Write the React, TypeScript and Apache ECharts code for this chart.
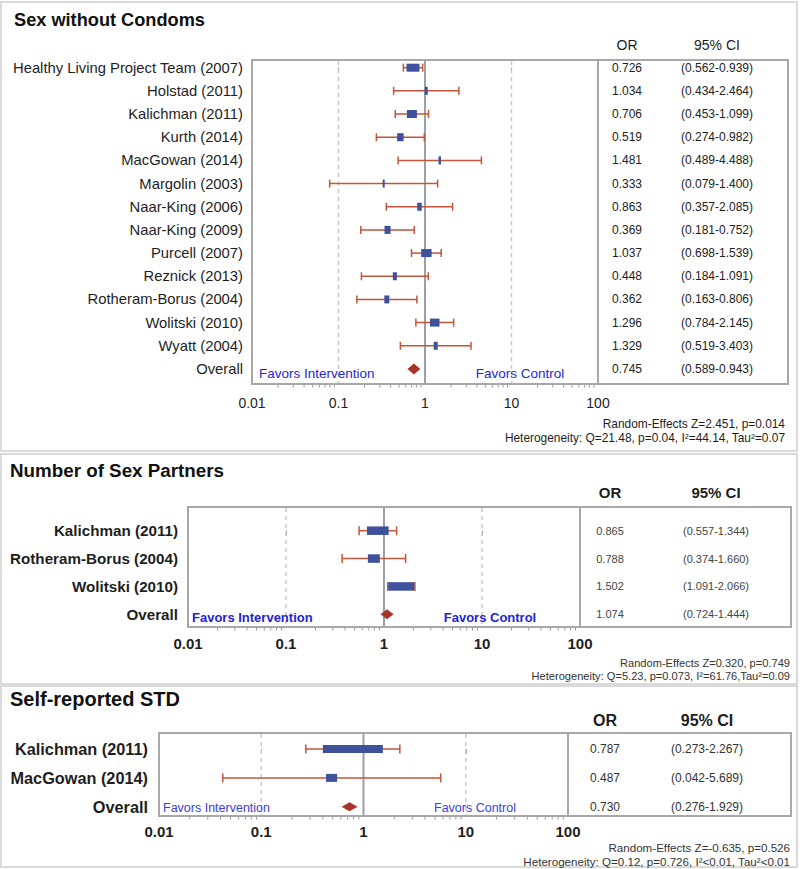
import React, { useEffect, useRef } from "react";
import * as echarts from "echarts";

const FONT = "'Liberation Sans', Arial, Helvetica, sans-serif";
const BOX = "#3f519b";
const CI = "#c2553a";
const DIAMOND = "#a83328";
const REF = "#98a0aa";
const DASH = "#c9c9c9";
const FRAME = "#a8a8a8";
const PANEL = "#dadada";
const TEXT = "#1e1e1e";

// ---------- Data: Sex without Condoms ----------
const swcStudies = [
  "Healthy Living Project Team (2007)", "Holstad (2011)", "Kalichman (2011)", "Kurth (2014)",
  "MacGowan (2014)", "Margolin (2003)", "Naar-King (2006)", "Naar-King (2009)", "Purcell (2007)",
  "Reznick (2013)", "Rotheram-Borus (2004)", "Wolitski (2010)", "Wyatt (2004)", "Overall",
];
const swcOR = [0.726, 1.034, 0.706, 0.519, 1.481, 0.333, 0.863, 0.369, 1.037, 0.448, 0.362, 1.296, 1.329, 0.745];
const swcLower = [0.562, 0.434, 0.453, 0.274, 0.489, 0.079, 0.357, 0.181, 0.698, 0.184, 0.163, 0.784, 0.519, 0.589];
const swcUpper = [0.939, 2.464, 1.099, 0.982, 4.488, 1.4, 2.085, 0.752, 1.539, 1.091, 0.806, 2.145, 3.403, 0.943];
const swcWeight = [16.1, 3.7, 12.4, 8.1, 3.1, 2.5, 5.6, 7.5, 13.0, 5.0, 6.2, 11.8, 5.0, 0];
const swcStats = ["Random-Effects Z=2.451, p=0.014", "Heterogeneity: Q=21.48, p=0.04, I\u00b2=44.14, Tau\u00b2=0.07"];

// ---------- Data: Number of Sex Partners ----------
const nspStudies = ["Kalichman (2011)", "Rotheram-Borus (2004)", "Wolitski (2010)", "Overall"];
const nspOR = [0.865, 0.788, 1.502, 1.074];
const nspLower = [0.557, 0.374, 1.091, 0.724];
const nspUpper = [1.344, 1.66, 2.066, 1.444];
const nspWeight = [36.3, 20.1, 43.6, 0];
const nspStats = ["Random-Effects Z=0.320, p=0.749", "Heterogeneity: Q=5.23, p=0.073, I\u00b2=61.76,Tau\u00b2=0.09"];

// ---------- Data: Self-reported STD ----------
const stdStudies = ["Kalichman (2011)", "MacGowan (2014)", "Overall"];
const stdOR = [0.787, 0.487, 0.73];
const stdLower = [0.273, 0.042, 0.276];
const stdUpper = [2.267, 5.689, 1.929];
const stdWeight = [84.5, 15.5, 0];
const stdStats = ["Random-Effects Z=-0.635, p=0.526", "Heterogeneity: Q=0.12, p=0.726, I\u00b2<0.01, Tau\u00b2<0.01"];

// ---------- Axis ----------
const axisTicks = [0.01, 0.1, 1, 10, 100];
const refValues = [0.1, 1, 10];
const minorTicks: number[] = [];
for (let d = 0; d < axisTicks.length - 1; d++) {
  for (let m = 2; m <= 9; m++) minorTicks.push(+(axisTicks[d] * m).toPrecision(6));
}

const fmtTick = (v: number) => String(parseFloat(Number(v).toPrecision(6)));

type Panel = {
  title: string; names: string[]; or: number[]; lo: number[]; hi: number[]; wt: number[]; stats: string[];
  left: number; top: number; width: number; height: number; tableRight: number;
  yMin: number; yMax: number;
  boxPx: number; boxH: number; capH: number; diamond: [number, number];
  frameTop: number; frameBottom: number;
  titleX: number; titleY: number; titleSize: number; headerY: number; orX: number; ciX: number;
  nameSize: number; nameWeight: string; nameGap: number;
  tableSize: number; tableColor: string;
  headerSize: number; headerWeight: string;
  axisSize: number; axisWeight: string; axisMargin: number;
  favSize: number; favWeight: string; favColor: string; favY: number; favLeftX: number; favRightCX: number;
  statsRight: number; statsY: [number, number]; statsSize: number; statsColor: string;
};

const panels: Panel[] = [
  {
    title: "Sex without Condoms", names: swcStudies, or: swcOR, lo: swcLower, hi: swcUpper, wt: swcWeight, stats: swcStats,
    left: 252, top: 60, width: 346, height: 324, tableRight: 788,
    yMin: -0.332, yMax: 13.65,
    boxPx: 0.805, boxH: 8, capH: 8, diamond: [13, 11],
    frameTop: 2, frameBottom: 451,
    titleX: 14, titleY: 20, titleSize: 18.2, headerY: 45, orX: 627, ciX: 717,
    nameSize: 14.8, nameWeight: "normal", nameGap: 9,
    tableSize: 12, tableColor: "#222",
    headerSize: 14, headerWeight: "normal",
    axisSize: 14, axisWeight: "normal", axisMargin: 12,
    favSize: 13.5, favWeight: "normal", favColor: "#2626d4", favY: 373, favLeftX: 259, favRightCX: 520,
    statsRight: 785, statsY: [424, 438], statsSize: 11.9, statsColor: "#1e1e1e",
  },
  {
    title: "Number of Sex Partners", names: nspStudies, or: nspOR, lo: nspLower, hi: nspUpper, wt: nspWeight, stats: nspStats,
    left: 188, top: 507, width: 392, height: 120, tableRight: 791,
    yMin: -0.85, yMax: 3.455,
    boxPx: 0.597, boxH: 8.5, capH: 9, diamond: [13, 10],
    frameTop: 454, frameBottom: 684,
    titleX: 10, titleY: 470, titleSize: 18.8, headerY: 492, orX: 610, ciX: 716,
    nameSize: 15.2, nameWeight: "bold", nameGap: 10,
    tableSize: 11, tableColor: "#444",
    headerSize: 15, headerWeight: "bold",
    axisSize: 15, axisWeight: "bold", axisMargin: 9,
    favSize: 13, favWeight: "bold", favColor: "#2323d6", favY: 617, favLeftX: 192, favRightCX: 490,
    statsRight: 790, statsY: [662.5, 675.5], statsSize: 11.1, statsColor: "#333",
  },
  {
    title: "Self-reported STD", names: stdStudies, or: stdOR, lo: stdLower, hi: stdUpper, wt: stdWeight, stats: stdStats,
    left: 159, top: 733, width: 409, height: 83, tableRight: 791,
    yMin: -0.555, yMax: 2.32,
    boxPx: 0.71, boxH: 8, capH: 9, diamond: [16, 9],
    frameTop: 686, frameBottom: 867,
    titleX: 10, titleY: 699, titleSize: 20, headerY: 720, orX: 605, ciX: 707,
    nameSize: 16.3, nameWeight: "bold", nameGap: 11,
    tableSize: 12, tableColor: "#333",
    headerSize: 16, headerWeight: "bold",
    axisSize: 15, axisWeight: "bold", axisMargin: 7.5,
    favSize: 12.5, favWeight: "normal", favColor: "#3d3dd8", favY: 807.5, favLeftX: 163, favRightCX: 475,
    statsRight: 790, statsY: [847.5, 861], statsSize: 11.6, statsColor: "#333",
  },
];

function txt(text: string, x: number, y: number, size: number, weight: string, color: string, align: string, extra: any = {}) {
  return {
    type: "text",
    x, y,
    ...extra,
    style: {
      text, fill: color, fontSize: size, fontWeight: weight, fontFamily: FONT,
      align, verticalAlign: "middle", textAlign: align, textVerticalAlign: "middle",
    },
  };
}

function buildOption() {
  const grid: any[] = [];
  const xAxis: any[] = [];
  const yAxis: any[] = [];
  const series: any[] = [];
  const graphic: any[] = [];

  panels.forEach((p, k) => {
    grid.push({
      left: p.left, top: p.top, width: p.width, height: p.height,
      show: false, containLabel: false, outerBoundsMode: "none",
    });
    xAxis.push({
      type: "log", logBase: 10, gridIndex: k,
      min: axisTicks[0], max: axisTicks[axisTicks.length - 1],
      axisLine: { show: false },
      axisTick: { show: true, length: 5, lineStyle: { color: "#999", width: 1 } },
      splitLine: { show: false },
      minorTick: { show: false },
      axisLabel: {
        margin: p.axisMargin, fontSize: p.axisSize, fontWeight: p.axisWeight, fontFamily: FONT, color: TEXT,
        formatter: (v: number) => fmtTick(v),
      },
    });
    yAxis.push({ type: "value", gridIndex: k, inverse: true, min: p.yMin, max: p.yMax, show: false });

    // reference lines
    series.push({
      type: "custom", xAxisIndex: k, yAxisIndex: k, silent: true,
      data: refValues.map((v) => [v, p.yMin]),
      encode: { x: 0, y: 1 },
      renderItem: (params: any, api: any) => {
        const v = refValues[params.dataIndex];
        const a = api.coord([v, p.yMin]);
        const b = api.coord([v, p.yMax]);
        const solid = v === 1;
        return {
          type: "line",
          shape: { x1: a[0], y1: a[1] + 1, x2: b[0], y2: b[1] - 1 },
          style: solid
            ? { stroke: REF, lineWidth: 2 }
            : { stroke: DASH, lineWidth: 1.5, lineDash: [4, 4] },
        };
      },
    });

    // minor ticks
    series.push({
      type: "custom", xAxisIndex: k, yAxisIndex: k, silent: true,
      data: minorTicks.map((v) => [v, p.yMax]),
      encode: { x: 0, y: 1 },
      renderItem: (params: any, api: any) => {
        const c = api.coord([api.value(0), p.yMax]);
        return {
          type: "line",
          shape: { x1: c[0], y1: c[1] + 1, x2: c[0], y2: c[1] + 3.5 },
          style: { stroke: "#999", lineWidth: 1 },
        };
      },
    });

    // studies + labels + table values
    const nRows = p.names.length;
    series.push({
      type: "custom", xAxisIndex: k, yAxisIndex: k, silent: true,
      data: p.or.map((v, i) => [v, p.lo[i], p.hi[i], i, p.wt[i]]),
      encode: { x: [0, 1, 2], y: 3 },
      renderItem: (params: any, api: any) => {
        const i = params.dataIndex;
        const or = api.value(0);
        const lo = api.value(1);
        const hi = api.value(2);
        const row = api.value(3);
        const wt = api.value(4);
        const c = api.coord([or, row]);
        const leftX = api.coord([axisTicks[0], row])[0];
        const children: any[] = [];
        const isOverall = i === nRows - 1;
        if (isOverall) {
          const [dw, dh] = p.diamond;
          children.push({
            type: "polygon",
            shape: { points: [[c[0] - dw / 2, c[1]], [c[0], c[1] - dh / 2], [c[0] + dw / 2, c[1]], [c[0], c[1] + dh / 2]] },
            style: { fill: DIAMOND },
          });
        } else {
          const xl = api.coord([lo, row])[0];
          const xh = api.coord([hi, row])[0];
          const ls = { stroke: CI, lineWidth: 1.5 };
          children.push({ type: "line", shape: { x1: xl, y1: c[1], x2: xh, y2: c[1] }, style: ls });
          children.push({ type: "line", shape: { x1: xl, y1: c[1] - p.capH / 2, x2: xl, y2: c[1] + p.capH / 2 }, style: ls });
          children.push({ type: "line", shape: { x1: xh, y1: c[1] - p.capH / 2, x2: xh, y2: c[1] + p.capH / 2 }, style: ls });
          const bw = Math.max(2, wt * p.boxPx);
          children.push({
            type: "rect",
            shape: { x: c[0] - bw / 2, y: c[1] - p.boxH / 2, width: bw, height: p.boxH },
            style: { fill: BOX },
          });
        }
        children.push(txt(p.names[i], leftX - p.nameGap, c[1], p.nameSize, p.nameWeight, TEXT, "right"));
        children.push(txt(p.or[i].toFixed(3), p.orX, c[1], p.tableSize, "normal", p.tableColor, "center"));
        children.push(txt(`(${p.lo[i].toFixed(3)}-${p.hi[i].toFixed(3)})`, p.ciX, c[1], p.tableSize, "normal", p.tableColor, "center"));
        return { type: "group", children };
      },
    });

    // decorations
    graphic.push({
      type: "rect", z: 0, silent: true,
      shape: { x: 1, y: p.frameTop, width: 796, height: p.frameBottom - p.frameTop },
      style: { fill: "none", stroke: PANEL, lineWidth: 2 },
    });
    graphic.push({
      type: "rect", z: 5, silent: true,
      shape: { x: p.left, y: p.top, width: p.width, height: p.height },
      style: { fill: "none", stroke: FRAME, lineWidth: 2 },
    });
    graphic.push({
      type: "rect", z: 5, silent: true,
      shape: { x: p.left + p.width, y: p.top, width: p.tableRight - (p.left + p.width), height: p.height },
      style: { fill: "none", stroke: FRAME, lineWidth: 2 },
    });
    graphic.push(txt(p.title, p.titleX, p.titleY, p.titleSize, "bold", "#111", "left", { z: 5 }));
    graphic.push(txt("OR", p.orX, p.headerY, p.headerSize, p.headerWeight, TEXT, "center", { z: 5 }));
    graphic.push(txt("95% CI", p.ciX, p.headerY, p.headerSize, p.headerWeight, TEXT, "center", { z: 5 }));
    graphic.push(txt("Favors Intervention", p.favLeftX, p.favY, p.favSize, p.favWeight, p.favColor, "left", { z: 5 }));
    graphic.push(txt("Favors Control", p.favRightCX, p.favY, p.favSize, p.favWeight, p.favColor, "center", { z: 5 }));
    graphic.push(txt(p.stats[0], p.statsRight, p.statsY[0], p.statsSize, "normal", p.statsColor, "right", { z: 5 }));
    graphic.push(txt(p.stats[1], p.statsRight, p.statsY[1], p.statsSize, "normal", p.statsColor, "right", { z: 5 }));
  });

  return {
    animation: false,
    backgroundColor: "#fff",
    grid, xAxis, yAxis, series,
    graphic: { elements: graphic },
  };
}

export default function App() {
  const ref = useRef<HTMLDivElement>(null);
  useEffect(() => {
    if (!ref.current) return;
    const chart = echarts.init(ref.current, undefined, { renderer: "svg" });
    chart.setOption(buildOption() as any);
    return () => chart.dispose();
  }, []);
  return (
    <div
      ref={ref}
      style={{ position: "absolute", left: 0, top: 0, width: 800, height: 869, background: "#fff" }}
    />
  );
}
